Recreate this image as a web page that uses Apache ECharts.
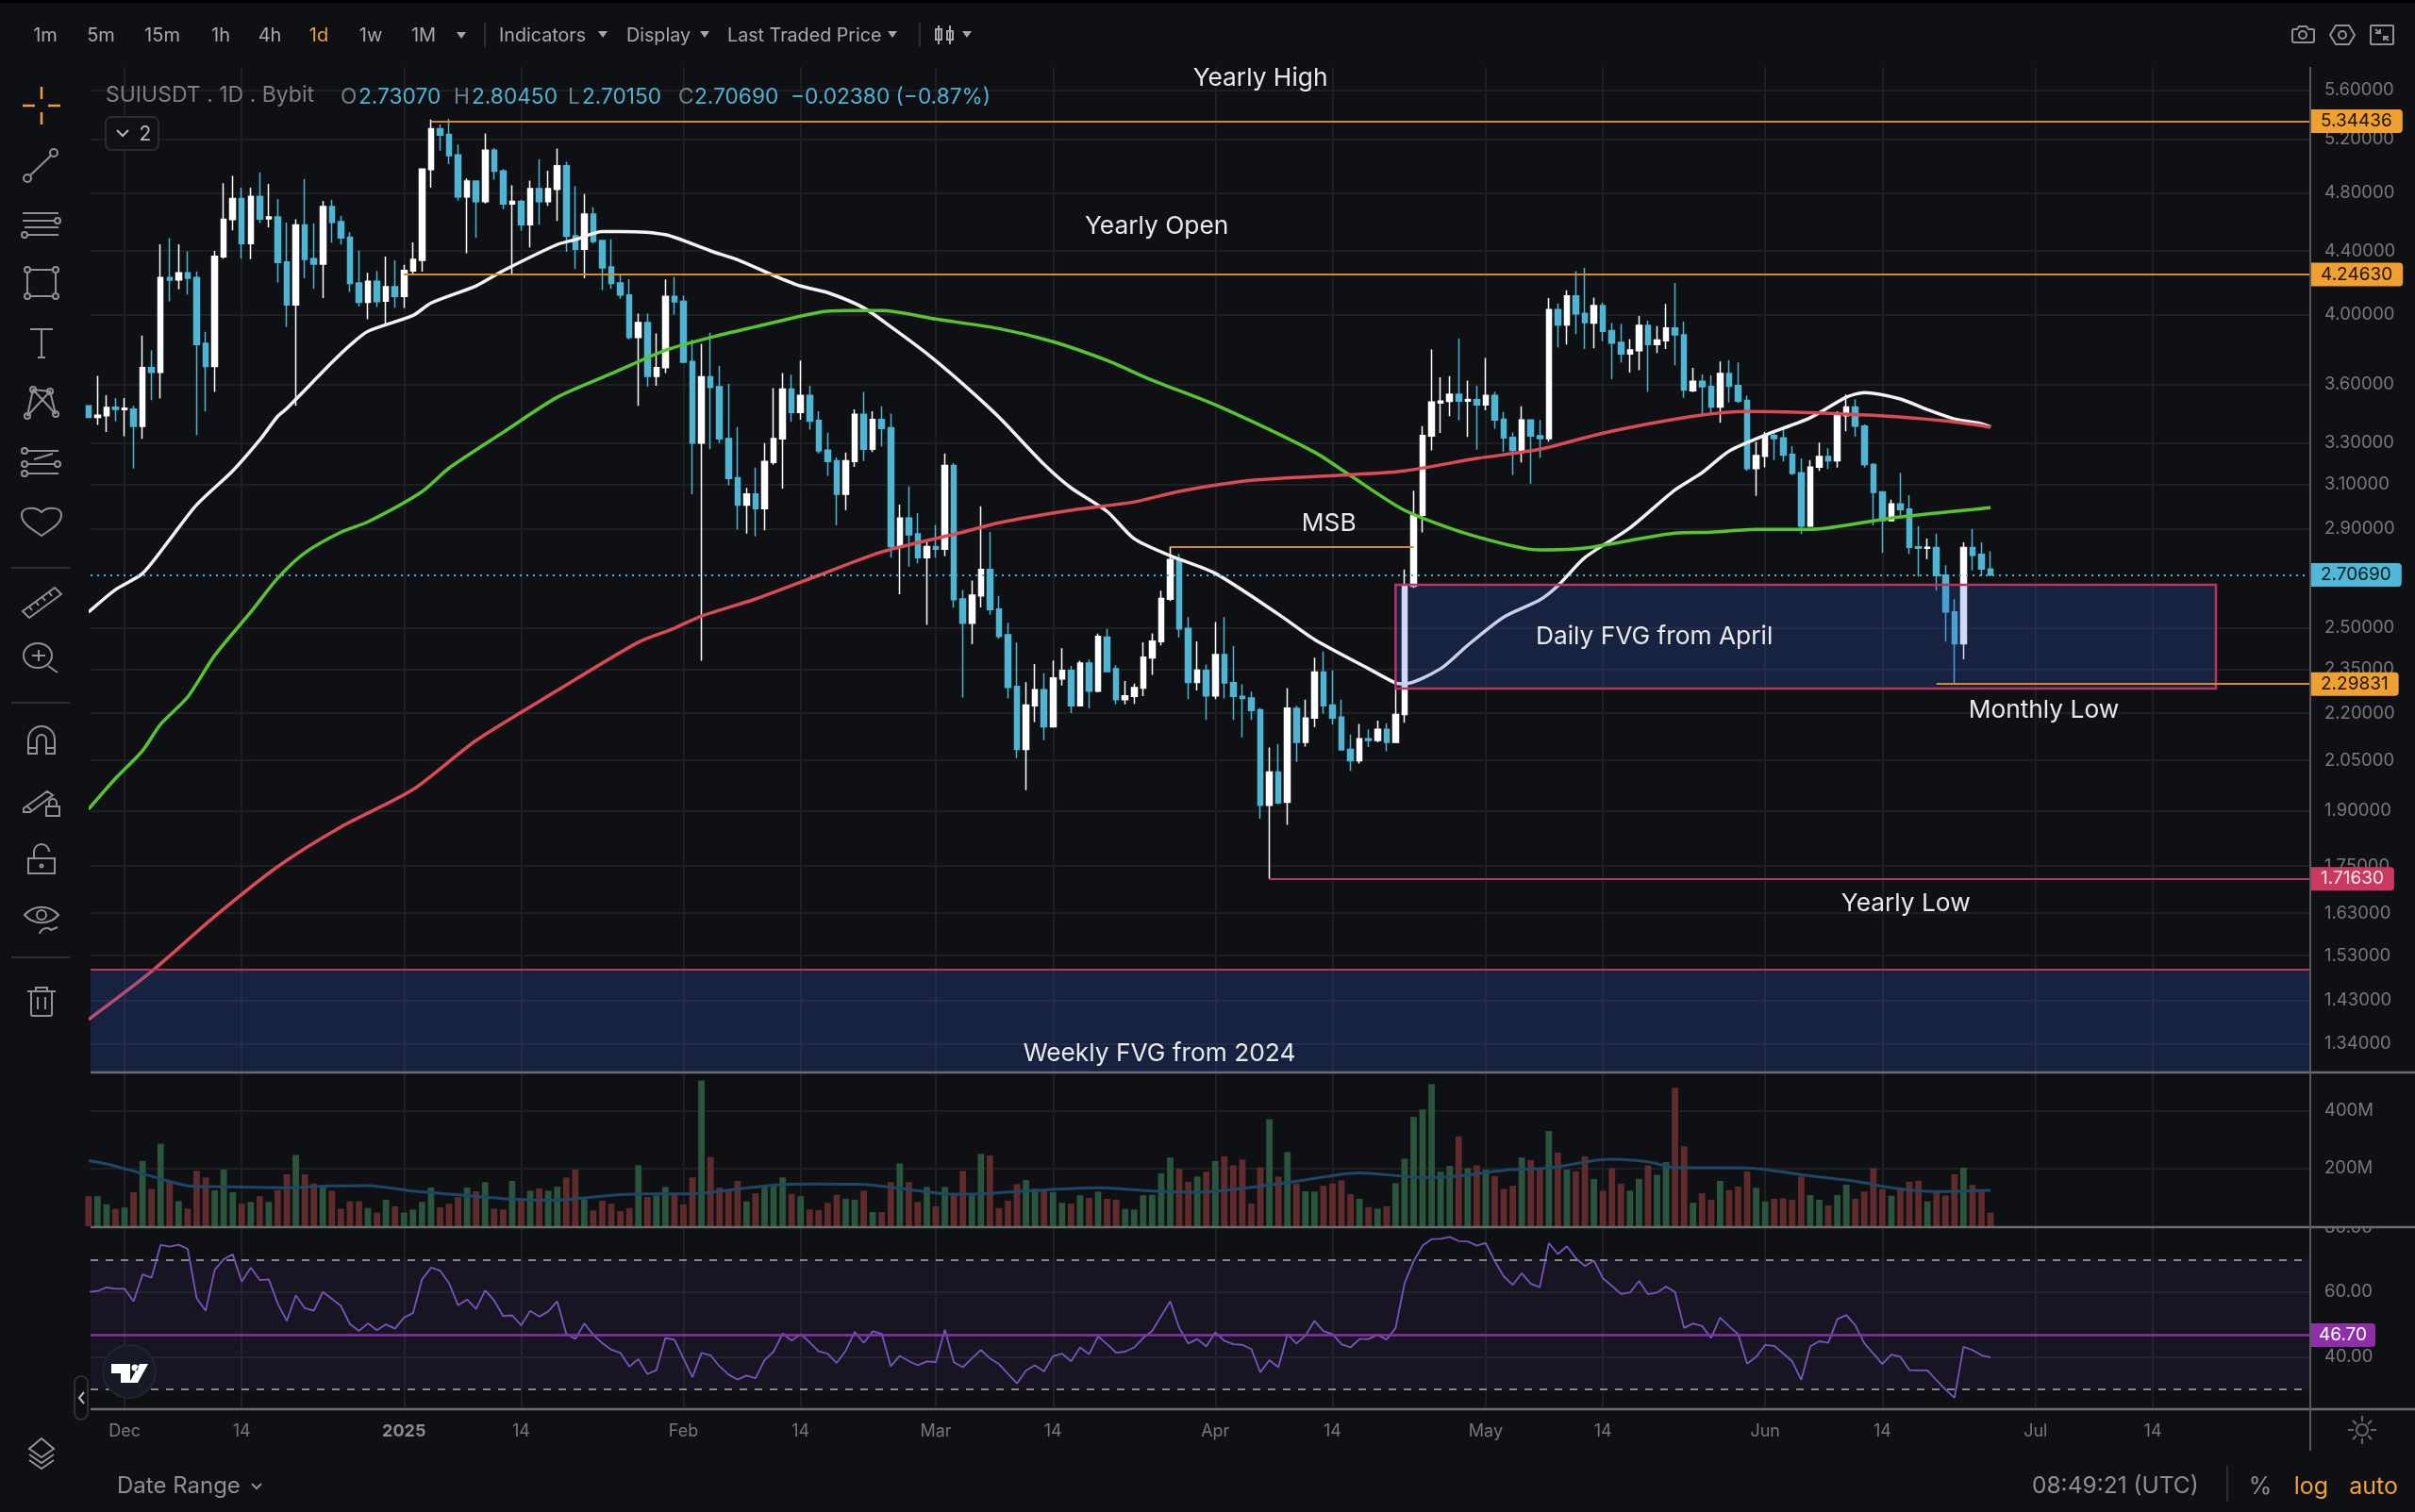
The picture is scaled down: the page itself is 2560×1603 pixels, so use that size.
<!DOCTYPE html>
<html><head><meta charset="utf-8">
<style>html,body{margin:0;padding:0;background:#0f1014}#c{width:2560px;height:1603px}</style>
<script src="https://cdn.jsdelivr.net/npm/echarts@6/dist/echarts.min.js"></script>
</head><body><div id="c"></div>
<script>
// ---------- values (one entry per daily candle, from 27 Nov 2024) ----------
const opens=[3.488,3.428,3.437,3.480,3.468,3.471,3.382,3.693,3.668,4.227,
4.213,4.257,4.227,3.830,3.700,4.361,4.611,4.759,4.448,4.774,
4.617,4.630,4.328,4.058,4.574,4.349,4.314,4.703,4.597,4.491,
4.194,4.074,4.204,4.080,4.169,4.109,4.269,4.338,4.970,5.285,
5.239,5.080,4.771,4.885,4.737,5.117,4.960,4.720,4.739,4.576,
4.830,4.737,4.826,4.999,4.501,4.410,4.650,4.469,4.295,4.194,
4.119,3.864,3.952,3.645,3.693,4.110,4.079,3.728,3.298,3.643,
3.589,3.321,3.131,3.005,3.056,2.990,3.204,3.319,3.576,3.454,
3.543,3.412,3.264,3.212,3.055,3.209,3.444,3.268,3.417,3.375,
2.824,2.948,2.879,2.778,2.824,2.813,3.189,2.611,2.518,2.623,
2.729,2.572,2.474,2.290,2.084,2.225,2.279,2.156,2.316,2.346,
2.225,2.372,2.274,2.466,2.352,2.245,2.256,2.284,2.390,2.449,
2.610,2.770,2.498,2.304,2.346,2.258,2.402,2.303,2.256,2.251,
2.211,1.916,2.014,1.925,2.216,2.106,2.184,2.340,2.227,2.187,
2.084,2.049,2.117,2.112,2.147,2.106,2.196,2.661,2.960,3.333,
3.503,3.511,3.549,3.513,3.520,3.493,3.543,3.418,3.327,3.263,
3.415,3.335,3.321,4.029,3.938,4.112,4.007,3.949,4.053,3.904,
3.836,3.770,3.789,3.935,3.824,3.845,3.919,3.880,3.568,3.618,
3.590,3.482,3.661,3.595,3.516,3.175,3.234,3.336,3.324,3.243,
3.155,2.912,3.182,3.233,3.212,3.437,3.482,3.383,3.194,3.066,
2.936,3.011,2.988,2.823,2.817,2.820,2.706,2.561,2.441,2.820,
2.791,2.7307];
const highs=[3.488,3.648,3.544,3.529,3.529,3.488,3.875,3.792,4.444,4.484,
4.444,4.396,4.267,3.897,4.400,4.870,4.924,4.837,4.837,4.949,
4.865,4.756,4.591,4.613,4.901,4.585,4.743,4.750,4.636,4.524,
4.402,4.257,4.269,4.363,4.338,4.309,4.457,4.980,5.358,5.318,
5.363,5.161,4.905,4.885,5.247,5.134,4.974,4.854,4.750,4.889,
5.048,4.962,5.130,5.029,4.848,4.792,4.698,4.473,4.477,4.253,
4.217,4.005,4.005,3.888,4.215,4.232,4.114,3.852,3.828,3.892,
3.703,3.604,3.379,3.084,3.179,3.298,3.582,3.664,3.655,3.733,
3.594,3.460,3.350,3.228,3.252,3.470,3.562,3.460,3.486,3.447,
3.008,3.092,2.970,2.849,2.918,3.247,3.201,2.646,2.684,3.000,
2.887,2.623,2.519,2.446,2.305,2.368,2.336,2.381,2.425,2.362,
2.380,2.384,2.479,2.496,2.364,2.309,2.300,2.447,2.480,2.644,
2.824,2.793,2.541,2.450,2.367,2.522,2.541,2.433,2.297,2.272,
2.217,2.090,2.100,2.284,2.225,2.245,2.391,2.413,2.346,2.245,
2.131,2.165,2.147,2.176,2.167,2.280,2.729,3.071,3.383,3.796,
3.640,3.647,3.857,3.622,3.594,3.747,3.563,3.456,3.351,3.486,
3.418,3.415,4.099,4.067,4.148,4.268,4.290,4.103,4.072,3.949,
3.944,3.855,3.991,3.963,3.930,4.063,4.194,3.957,3.692,3.656,
3.652,3.727,3.736,3.722,3.541,3.304,3.354,3.359,3.383,3.283,
3.224,3.215,3.301,3.273,3.460,3.547,3.522,3.392,3.201,3.068,
3.030,3.154,3.050,2.912,2.858,2.880,2.746,2.610,2.842,2.900,
2.842,2.8045];
const lows=[3.428,3.389,3.354,3.408,3.332,3.175,3.319,3.518,3.526,4.079,
4.154,4.121,3.338,3.458,3.562,4.349,4.537,4.349,4.345,4.587,
4.558,4.197,3.926,3.488,4.223,4.156,4.099,4.455,4.442,4.137,
4.047,3.971,4.045,3.943,4.041,4.039,4.243,4.265,4.838,5.113,
5.012,4.744,4.384,4.486,4.724,4.896,4.684,4.253,4.536,4.424,
4.576,4.708,4.602,4.393,4.281,4.223,4.448,4.149,4.156,4.095,
3.854,3.488,3.590,3.594,3.664,4.000,3.719,3.055,2.380,3.268,
3.298,3.096,2.897,2.880,2.867,2.894,3.193,3.081,3.406,3.416,
3.366,3.247,3.140,2.916,2.982,3.183,3.211,3.254,3.282,2.778,
2.630,2.741,2.754,2.511,2.778,2.785,2.577,2.252,2.440,2.578,
2.550,2.460,2.249,2.057,1.960,2.171,2.113,2.156,2.293,2.200,
2.225,2.216,2.270,2.339,2.229,2.229,2.231,2.257,2.330,2.435,
2.603,2.465,2.247,2.276,2.178,2.247,2.249,2.178,2.122,2.178,
1.878,1.716,1.920,1.861,2.045,2.093,2.154,2.198,2.163,2.080,
2.018,2.040,2.091,2.106,2.078,2.106,2.169,2.655,2.885,3.262,
3.349,3.434,3.414,3.329,3.266,3.464,3.370,3.255,3.145,3.204,
3.103,3.227,3.305,3.807,3.824,3.883,3.798,3.802,3.842,3.630,
3.722,3.666,3.679,3.562,3.775,3.798,3.706,3.530,3.560,3.435,
3.448,3.400,3.505,3.503,3.164,3.047,3.180,3.215,3.209,3.145,
2.878,2.908,3.164,3.173,3.179,3.357,3.331,3.179,2.916,2.797,
2.934,2.960,2.793,2.700,2.772,2.644,2.449,2.298,2.385,2.725,
2.702,2.7015];
const closes=[3.428,3.439,3.479,3.470,3.476,3.382,3.693,3.668,4.227,4.211,
4.257,4.223,3.824,3.700,4.365,4.613,4.759,4.448,4.774,4.615,
4.630,4.324,4.058,4.574,4.344,4.314,4.703,4.592,4.486,4.190,
4.074,4.204,4.078,4.169,4.109,4.273,4.344,4.974,5.285,5.234,
5.075,4.771,4.885,4.737,5.117,4.958,4.720,4.739,4.576,4.830,
4.737,4.830,4.999,4.497,4.410,4.650,4.463,4.289,4.190,4.119,
3.864,3.952,3.645,3.693,4.110,4.077,3.724,3.298,3.643,3.585,
3.319,3.128,3.005,3.056,2.990,3.209,3.321,3.576,3.454,3.543,
3.409,3.260,3.209,3.055,3.212,3.444,3.268,3.417,3.371,2.824,
2.948,2.875,2.778,2.824,2.813,3.189,2.608,2.518,2.626,2.729,
2.570,2.468,2.287,2.084,2.227,2.279,2.156,2.319,2.346,2.225,
2.372,2.274,2.468,2.342,2.245,2.258,2.286,2.393,2.451,2.613,
2.770,2.496,2.304,2.347,2.258,2.402,2.302,2.256,2.249,2.209,
1.916,2.014,1.923,2.217,2.106,2.184,2.340,2.225,2.184,2.082,
2.049,2.117,2.112,2.147,2.106,2.196,2.661,2.960,3.336,3.508,
3.513,3.549,3.513,3.521,3.493,3.543,3.415,3.324,3.263,3.415,
3.333,3.321,4.029,3.938,4.112,4.004,3.951,4.053,3.900,3.832,
3.770,3.793,3.935,3.824,3.849,3.919,3.880,3.572,3.618,3.589,
3.482,3.661,3.592,3.513,3.175,3.237,3.336,3.321,3.240,3.152,
2.912,3.182,3.233,3.212,3.437,3.482,3.383,3.194,3.064,2.936,
3.011,2.985,2.821,2.817,2.821,2.704,2.561,2.441,2.820,2.788,
2.731,2.7069];
const volumes=[104,104,76,60,65,118,226,129,286,155,
87,61,192,169,124,196,118,78,84,104,
84,125,180,247,180,148,142,123,61,86,
86,63,47,92,69,47,58,84,134,65,
78,101,134,121,153,61,58,157,94,123,
131,123,137,169,196,94,55,88,78,52,
63,211,101,106,136,112,75,169,505,240,
134,125,157,86,114,140,145,169,112,104,
58,56,81,109,95,92,123,49,49,153,
218,153,84,136,69,136,109,192,109,251,
245,63,88,146,160,130,122,118,81,78,
107,98,120,95,92,60,58,107,109,183,
238,199,154,172,189,226,242,211,231,78,
204,371,172,257,148,121,120,140,148,159,
111,95,66,61,69,149,234,379,405,493,
189,209,311,201,211,196,174,129,140,238,
229,201,330,255,196,190,242,164,123,201,
147,123,164,211,178,222,480,277,81,114,
92,157,125,137,190,133,86,95,97,92,
172,108,92,72,108,144,95,120,201,129,
106,129,154,157,86,118,106,180,203,143,
120,47];
const rsiValues=[60,60.3,61.4,61,61,57.1,65.4,64.4,74.5,74,
74.6,73.3,58.1,54.2,66.8,70.1,71.6,63.2,67.5,63.7,
63.9,56.4,51.1,59,55,54.2,60,57.9,55.7,50.1,
48,50.3,48.2,50,48.7,52.1,53.5,63.9,67.5,66.6,
62.7,55.9,57.7,54.8,60.5,57.4,52.6,52.8,49.7,54.2,
52.4,54,57.1,47.1,45.5,50.3,46.8,44.2,42.2,41.2,
37,39.3,34.7,35.9,45.8,45.3,39.5,33.7,41.2,40.5,
37.1,34.5,33,34.2,33.4,39,41.6,47.2,45,47,
44.5,41.7,41,38.1,41.9,47.7,44.3,47.9,47.1,37.1,
40.3,38.7,37.4,38.6,38.4,48.4,38.3,36.8,39.5,42.1,
39.5,37.8,34.7,31.8,35.8,37.4,35.5,40.2,41,38.6,
42.9,40.8,46.3,43.9,41.3,41.6,42.9,45.8,48,52.6,
57.1,48.9,44.1,45.5,43.2,47.5,45,43.9,43.7,42.4,
35.2,39,36.8,47,44.1,46.5,51.1,47.9,47,43.9,
42.9,45.5,45.5,46.8,45.3,48.9,62.7,69.5,74.3,76.3,
76.4,77,75.7,75.6,74.3,75.1,69.5,64.8,62.2,65.8,
62.5,61.5,75.1,71.7,74.1,70.4,68,69.7,64.2,61.9,
59.4,59.8,63.4,59.3,59.8,61.7,60,48.9,50.3,49.5,
45.8,52.1,49.4,47,37.9,40,43.7,43.4,41,38.6,
32.9,43.2,44.8,44.3,51.6,52.9,49.7,44.2,41,37.8,
40.7,40,35.9,35.8,35.8,32.8,29.9,27.4,43.1,42.1,
40.5,39.8];
// moving averages, read at [candle number, price]
const whiteMA=[[0,2.560],[3,2.648],[6,2.713],[9,2.854],[12,3.007],[16,3.164],[19,3.314],[21,3.434],[22,3.474],[27,3.722],[29,3.819],[31,3.900],[36,3.994],[38,4.069],[43,4.175],[46,4.271],[52,4.442],[54,4.475],[57,4.530],[59,4.530],[64,4.508],[69,4.400],[72,4.342],[76,4.241],[79,4.174],[82,4.133],[86,4.040],[89,3.927],[93,3.772],[97,3.604],[101,3.429],[106,3.195],[109,3.084],[113,2.977],[116,2.858],[120,2.786],[125,2.713],[132,2.552],[136,2.457],[142,2.352],[145,2.302],[146,2.299],[150,2.352],[153,2.436],[157,2.541],[161,2.607],[163,2.663],[166,2.778],[171,2.905],[176,3.075],[179,3.155],[182,3.259],[186,3.338],[191,3.426],[195,3.533],[197,3.558],[201,3.524],[204,3.468],[207,3.420],[210,3.396],[211,3.379]];
const greenMA=[[0,1.905],[3,1.995],[6,2.080],[8,2.164],[11,2.254],[14,2.399],[18,2.560],[21,2.694],[24,2.798],[28,2.886],[31,2.931],[37,3.067],[40,3.177],[46,3.352],[52,3.533],[58,3.660],[64,3.791],[70,3.878],[74,3.927],[81,4.012],[84,4.023],[88,4.023],[94,3.972],[101,3.916],[107,3.840],[113,3.733],[118,3.624],[125,3.493],[136,3.254],[140,3.141],[146,2.982],[153,2.878],[161,2.810],[166,2.818],[176,2.882],[180,2.886],[185,2.898],[191,2.898],[200,2.948],[210,2.990],[211,2.995]];
const redMA=[[0,1.390],[7,1.494],[14,1.622],[21,1.748],[28,1.855],[36,1.962],[43,2.112],[52,2.276],[61,2.447],[65,2.499],[68,2.545],[74,2.611],[81,2.705],[88,2.802],[97,2.886],[101,2.927],[109,2.982],[116,3.020],[121,3.068],[129,3.119],[140,3.146],[146,3.164],[154,3.223],[161,3.268],[168,3.348],[178,3.434],[184,3.459],[198,3.439],[206,3.410],[210,3.386],[211,3.377]];
const volumeMA=[[0,227],[2,216],[5,191],[8,164],[11,140],[14,137],[20,134],[22,133],[27,140],[31,141],[36,122],[42,106],[46,96],[51,90],[54,95],[58,107],[61,112],[67,112],[71,125],[76,142],[80,146],[86,145],[90,131],[96,111],[100,114],[105,124],[112,133],[118,122],[123,118],[126,124],[132,147],[139,180],[141,185],[148,169],[152,174],[157,194],[162,202],[167,227],[169,232],[173,223],[176,203],[184,202],[191,174],[196,156],[200,133],[205,120],[211,124]];
// axes
const priceTicks=[5.6,5.2,4.8,4.4,4.0,3.6,3.3,3.1,2.9,2.5,2.35,2.2,2.05,1.9,1.75,1.63,1.53,1.43,1.34];
const volumeTicks=[200,400];
const rsiTicks=[80,60,40];
const dayTicks=[4,17,35,48,66,79,94,107,125,138,155,168,186,199,216,229];
const dayLabels=['Dec','14','2025','14','Feb','14','Mar','14','Apr','14','May','14','Jun','14','Jul','14'];
// levels
const yearlyHigh=5.34436, yearlyOpen=4.2463, monthlyLow=2.29831, yearlyLow=1.7163, lastPrice=2.7069, msbLevel=2.825, rsiNow=46.70;
const dailyFVG=[145,236,2.283,2.667], weeklyTop=1.498;

// ---------- geometry and style ----------
const xMin=0.23,xMax=246.47,pMin=1.2838,pMax=5.797;
const FONT='Inter',BG='#0f1014',GRID='#1e1f23',AX='#76787d',ORANGE='#d68a30',PILL='#efa02e',RED='#bb345c',CYAN='#4fb3d1';
const days=opens.map((_,i)=>i);
const candleData=days.map(i=>[i,opens[i],closes[i],lows[i],highs[i]]);
const barData=days.map(i=>({value:[i,volumes[i]],itemStyle:{color:closes[i]>=opens[i]?'#2a543b':'#5f2b2d'}}));
const rsiData=days.map(i=>[i,rsiValues[i]]);
const pillLabel=(text,bg,fg,pad)=>({show:true,position:'end',distance:0,formatter:text,color:fg,backgroundColor:bg,padding:[4,pad||11,4,pad||11],borderRadius:[0,4,4,0],fontFamily:FONT,fontSize:19,lineHeight:17});
const level=(v,start,color,width,label,type)=>[{coord:[start,v],lineStyle:{color,width,type:type||'solid',opacity:1},label:label||{show:false}},{coord:[xMax,v]}];
const note=(name,x,y)=>({name,coord:[x,y],value:name});
const xCommon=(gridIndex,show)=>({type:'value',gridIndex,min:xMin,max:xMax,axisLine:{show:false},
  axisTick:{show:false,customValues:dayTicks},splitLine:{show:true,lineStyle:{color:GRID,width:2}},
  axisLabel:{show,customValues:dayTicks,color:AX,fontFamily:FONT,fontSize:18,margin:15,hideOverlap:false,
    formatter:v=>{const s=dayLabels[dayTicks.indexOf(Math.round(v))]||'';return s==='2025'?'{b|2025}':s;},rich:{b:{fontWeight:700,color:'#8a8c91',fontFamily:FONT,fontSize:18}}}});
const yCommon=(gridIndex,ticks,fmt,extra,pad)=>Object.assign({gridIndex,position:'right',axisLine:{show:false},
  axisTick:{show:false,customValues:ticks},splitLine:{show:true,lineStyle:{color:GRID,width:2}},
  axisLabel:{customValues:ticks,formatter:fmt,color:AX,fontFamily:FONT,fontSize:18.5,margin:15,hideOverlap:false,padding:[pad||0,0,0,0]}},extra);
const ma=(name,data,color,width)=>({name,type:'line',data,symbol:'none',smooth:0.25,z:3,lineStyle:{color,width},silent:true,animation:false});

// ---------- chrome (toolbars) ----------
let iconCount=0;
const C=(x,y,r)=>`M${x+r} ${y}a${r} ${r} 0 1 0 ${-2*r} 0a${r} ${r} 0 1 0 ${2*r} 0`;
const T=(text,x,y,color,size,align,weight)=>({type:'text',x,y,z:60,silent:true,style:{text,fill:color,font:`${weight||400} ${size}px ${FONT}`,align:align||'left',verticalAlign:'middle'}});
const P=(d,x,y,stroke,fill,lw)=>{const name='icon'+(iconCount++);echarts.graphic.registerShape(name,echarts.graphic.extendPath(d,{}));
  return {type:name,x,y,z:60,silent:true,style:{stroke:stroke||'none',fill:fill||'none',lineWidth:lw==null?2:lw}};};
const R=(x,y,w,h,fill,z,stroke,r)=>({type:'rect',z:z||55,silent:true,shape:{x,y,width:w,height:h,r:r||0},style:{fill:fill||'none',stroke:stroke||'none',lineWidth:stroke?2:0}});
const L=(x1,y1,x2,y2,color,w)=>({type:'line',z:58,silent:true,shape:{x1,y1,x2,y2},style:{stroke:color,lineWidth:w||2}});
const tri=(x,y)=>P('M-5 -3H5L0 4Z',x,y,null,'#a4a6ab',0);
const ICON='#8f9195',TXT='#a6a8ad',MUTE='#8d8f94';
const chrome=[
 R(0,0,2560,3,'#000',50),
 T('1m',48,38,TXT,20,'center'),T('5m',107,38,TXT,20,'center'),T('15m',172,38,TXT,20,'center'),T('1h',234,38,TXT,20,'center'),T('4h',286,38,TXT,20,'center'),
 T('1d',338,38,'#e6a23c',20,'center'),T('1w',393,38,TXT,20,'center'),T('1M',449,38,TXT,20,'center'),tri(489,37),
 L(514,24,514,50,'#2b2c30'),
 T('Indicators',529,38,TXT,19.7),tri(639,36),T('Display',664,38,TXT,19.7),tri(747,36),T('Last Traded Price',771,38,TXT,19.7),tri(946,36),
 L(975,24,975,50,'#2b2c30'),
 P('M-6 -10V10M6 -10V10M-9 -6h6v11h-6zM3 -4h6v9h-6z',1001,37,TXT,null,2),tri(1025,36),
 P('M-11 -6h5l2 -3h8l2 3h5a1 1 0 0 1 1 1v11a2 2 0 0 1 -2 2h-19a2 2 0 0 1 -2 -2v-11a2 2 0 0 1 2 -1z'+C(0,0,4),2441,37,ICON),
 P('M-13 0L-7 -10H7L13 0L7 10H-7Z'+C(0,0,4),2483,37,ICON),
 P('M-11 -10h22a1 1 0 0 1 1 1v18a1 1 0 0 1 -1 1h-22a1 1 0 0 1 -1 -1v-18a1 1 0 0 1 1 -1zM-7 -6l5 4M-2 -6v4h-5M7 6l-5 -4M2 6v-4h5',2525,37,ICON),
 // legend line
 T('SUIUSDT . 1D . Bybit',112,101,'#7c7e83',23),
 T('O',361,103,'#6f8089',22.7),T('2.73070',380,103,CYAN,22.7),
 T('H',481,103,'#6f8089',22.7),T('2.80450',500,103,CYAN,22.7),
 T('L',602,103,'#6f8089',22.7),T('2.70150',617,103,CYAN,22.7),
 T('C',719,103,'#6f8089',22.7),T('2.70690',736,103,CYAN,22.7),
 T('\u22120.02380 (\u22120.87%)',838,103,CYAN,22.7),
 R(112,124,56,35,'#101115',59,'#2a2b30',6),
 P('M-6 -3L0 3L6 -3',130,141,'#b5b7bb'),T('2',154,143,'#b5b7bb',21,'center'),
 // left toolbar
 P('M0 -20V-7M0 7V20M-20 0H-7M7 0H20',44,112,'#e6a23c',null,2.5),
 P('M-12 11L10 -10'+C(-15,14,4)+C(13,-13,4),44,175,ICON),
 P('M-20 -12H18M-20 -4H14M-18 3H18M-14 11H18'+C(17,-4,3)+C(-18,11,3),44,238,ICON),
 P('M-12 -14H12M-12 14H12M-15 -11V11M15 -11V11'+C(-15,-14,3)+C(15,-14,3)+C(-15,14,3)+C(15,14,3),44,300,ICON),
 P('M-12 -15H12M0 -15V15M-4 15H4',44,364,ICON),
 P('M-15 15L-9 -13L9 -11L15 13M-15 15L9 -11M-9 -13L15 13'+C(-15,15,3)+C(-9,-13,3)+C(9,-11,3)+C(15,13,3),44,426,ICON),
 P('M-16 -12H18M-16 2H14M-16 12H18M-8 -3L12 -9'+C(-18,-12,3)+C(-18,2,3)+C(17,2,3)+C(-18,12,3),44,490,ICON),
 P('M0 16C-8 10 -21 4 -21 -6C-21 -15 -6 -15 0 -9C6 -15 21 -15 21 -6C21 4 8 10 0 16Z',44,552,ICON),
 L(12,602,74,602,'#2e2f33'),
 P('M-20 11L14 -14L21 -7L-13 18ZM-13 6l3 4M-6 1l3 4M1 -4l3 4M8 -9l3 4',44,637,ICON),
 P('M-19 -4a15 13 0 1 0 30 0a15 13 0 1 0 -30 0M-10 -4H4M-3 -10V2M7 7L17 14',44,699,ICON),
 L(12,745,74,745,'#2e2f33'),
 P('M-14 14V-1A14 14 0 0 1 14 -1V14H5V-1A5 5 0 0 0 -5 -1V14ZM-14 8H-5M5 8H14',44,785,ICON),
 P('M-19 10L6 -8L12 -4L-12 14H-19ZM-15 8l4 4M5 8h14v10h-14zM8 8v-4a4 4 0 0 1 8 0v4',44,847,ICON),
 P('M-14 -1H14V15H-14ZM-8 -1V-8A8 8 0 0 1 8 -8'+C(0,7,1.5),44,911,ICON),
 P('M-18 -3C-8 -14 8 -14 18 -3C8 8 -8 8 -18 -3Z'+C(0,-3,5)+'M-2 17C0 10 8 10 10 13L17 10',44,973,ICON),
 L(12,1015,74,1015,'#2e2f33'),
 P('M-15 -10H15M-11 -10V14a2 2 0 0 0 2 2H9a2 2 0 0 0 2 -2V-10M-6 -10V-14H6V-10M-4 -4V9M4 -4V9',44,1061,ICON),
 P('M0 -15L13 -4L0 5L-13 -4ZM-13 2L0 11L13 2M-13 8L0 17L13 8',44,1540,ICON),
 // separators
 L(96,1137,2560,1137,'#6b6c6f',2.5),L(96,1301,2560,1301,'#6b6c6f',2.5),L(96,1494,2560,1494,'#6b6c6f',2.5),
 L(2449,71,2449,1538,'#57585b',2),
 R(2452,1270,108,30,BG,57),
 // TradingView mark and collapse handle
 {type:'circle',z:59,silent:true,shape:{cx:137,cy:1454,r:28},style:{fill:'#161a25',stroke:'#23252d',lineWidth:2}},
 P('M-19 -10H1V10H-9V0H-19Z'+C(6,-6,3.5)+'M11 -10H20L9 10H0Z',137,1456,null,'#fff',0),
 R(79,1459,14,46,BG,59,'#2e2f33',7),
 P('M3 -5L-2 1L3 7',86,1481,'#b5b7bb'),
 // bottom bar
 T('Date Range',124,1576,MUTE,24),P('M-5 -2L0 3L5 -2',272,1575,MUTE),
 T('08:49:21 (UTC)',2154,1576,MUTE,24.5),L(2361,1554,2361,1592,'#2b2c30'),
 T('%',2396,1576,MUTE,25,'center'),T('log',2450,1576,'#eea237',25,'center'),T('auto',2516,1576,'#eea237',25,'center'),
 P(C(0,0,6)+'M0 -15V-9M0 9V15M-15 0H-9M9 0H15M-10 -10L-6 -6M6 6L10 10M10 -10L6 -6M-6 6L-10 10',2504,1516,'#66686c')
];

// ---------- chart ----------
const chart=echarts.init(document.getElementById('c'),null,{width:2560,height:1603,renderer:'canvas'});
chart.setOption({
 animation:false,backgroundColor:BG,
 textStyle:{fontFamily:FONT},
 grid:[{left:96,width:2353,top:71,height:1066},{left:96,width:2353,top:1137,height:163},{left:96,width:2353,top:1301,height:193}],
 xAxis:[xCommon(0,false),xCommon(1,false),xCommon(2,true)],
 yAxis:[
  yCommon(0,priceTicks,v=>Number(v).toFixed(5),{type:'log',logBase:10,min:pMin,max:pMax}),
  yCommon(1,volumeTicks,v=>v+'M',{type:'value',min:0,max:533},2),
  yCommon(2,rsiTicks,v=>Number(v).toFixed(2),{type:'value',min:23.85,max:80},2)
 ],
 series:[
  {name:'SUIUSDT',type:'candlestick',xAxisIndex:0,yAxisIndex:0,data:candleData,barWidth:6,z:2,silent:true,
   itemStyle:{color:'#ffffff',color0:'#4fb5d3',borderColor:'#ffffff',borderColor0:'#4fb5d3',borderWidth:1.5}},
  ma('MA white',whiteMA,'#f2f2f2',3.5),
  ma('MA green',greenMA,'#58c42f',3.5),
  ma('MA red',redMA,'#dc4a55',3.5),
  {name:'Drawings',type:'line',data:[[100,3]],symbol:'none',lineStyle:{opacity:0},silent:true,
   markArea:{silent:true,z:4,data:[
     [{coord:[dailyFVG[0],dailyFVG[3]],itemStyle:{color:'rgba(53,89,210,0.23)',borderColor:RED,borderWidth:2.5}},{coord:[dailyFVG[1],dailyFVG[2]]}],
     [{coord:[xMin,weeklyTop],itemStyle:{color:'rgba(53,89,210,0.23)',borderWidth:0}},{coord:[xMax,1.2839]}]
   ]},
   markLine:{silent:true,symbol:['none','none'],z:5,precision:5,data:[
     level(yearlyHigh,38,ORANGE,2,pillLabel('5.34436',PILL,'#1a1206')),
     level(yearlyOpen,35,ORANGE,2,pillLabel('4.24630',PILL,'#1a1206')),
     level(monthlyLow,205,ORANGE,2,pillLabel('2.29831',PILL,'#1a1206')),
     level(yearlyLow,131,RED,2,pillLabel('1.71630',"#cb3a5e",'#f4e9ec')),
     level(lastPrice,xMin,CYAN,2,pillLabel('2.70690','#4fb8d6','#0c1a20'),[2,5]),
     level(weeklyTop,xMin,RED,2),
     [{coord:[120,msbLevel],lineStyle:{color:ORANGE,width:2,type:'solid'},label:{show:false}},{coord:[147,msbLevel]}]
   ]},
   markPoint:{silent:true,symbol:'circle',symbolSize:0,z:7,
     label:{show:true,position:'inside',formatter:'{b}',color:'#e9e9ea',fontFamily:FONT,fontSize:26.3},
     data:[note('Yearly High',130,5.696),note('Yearly Open',118.5,4.566),note('MSB',137.6,2.925),note('Daily FVG from April',173.7,2.468),note('Monthly Low',216.9,2.208),note('Yearly Low',201.6,1.654),note('Weekly FVG from 2024',118.8,1.321)]}
  },
  {name:'Volume',type:'bar',xAxisIndex:1,yAxisIndex:1,data:barData,barWidth:6.8,silent:true,z:2},
  Object.assign(ma('Volume MA',volumeMA,'#1d4767',3),{xAxisIndex:1,yAxisIndex:1}),
  {name:'RSI',type:'line',xAxisIndex:2,yAxisIndex:2,data:rsiData,symbol:'none',z:3,silent:true,lineStyle:{color:'#7a54bd',width:1.8},
   markArea:{silent:true,z:1,data:[[{coord:[xMin,30],itemStyle:{color:'rgba(126,87,194,0.08)'}},{coord:[xMax,70]}]]},
   markLine:{silent:true,symbol:['none','none'],z:4,data:[
     [{coord:[xMin,70],lineStyle:{color:'#85868b',width:2,type:[8,8]},label:{show:false}},{coord:[xMax,70]}],
     [{coord:[xMin,30],lineStyle:{color:'#85868b',width:2,type:[8,8]},label:{show:false}},{coord:[xMax,30]}],
     level(rsiNow,xMin,'#8e2fa8',2.5,pillLabel('46.70','#8e2fa8','#ffffff',9))
   ]}}
 ],
 graphic:{elements:chrome}
});
</script></body></html>
